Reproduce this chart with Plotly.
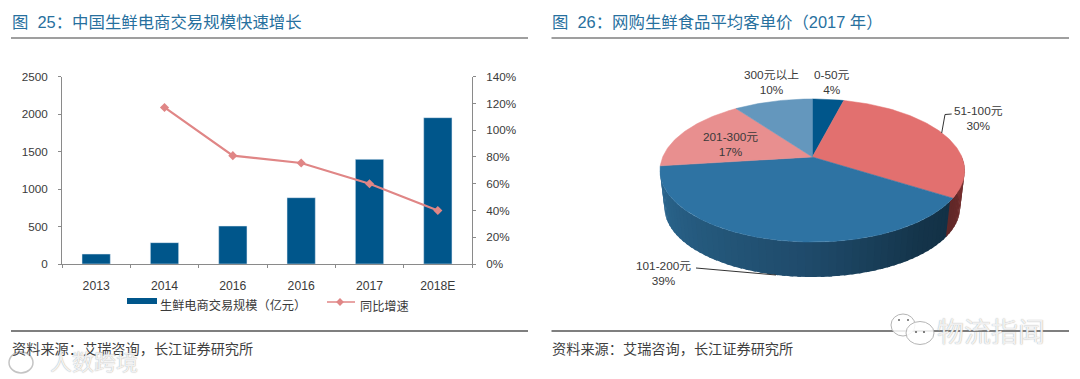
import math
import plotly.graph_objects as go

# ---------- data ----------
years = ["2013", "2014", "2016", "2016", "2017", "2018E"]
market_size = [133, 285, 507, 885, 1397, 1953]
growth_pct = [None, 117, 81, 75.5, 60, 40]
y1_ticks = [0, 500, 1000, 1500, 2000, 2500]
y2_ticks = [0, 20, 40, 60, 80, 100, 120, 140]
y2_ticktext = ["0%", "20%", "40%", "60%", "80%", "100%", "120%", "140%"]

pie_labels = ["0-50元", "51-100元", "101-200元", "201-300元", "300元以上"]
pie_values = [4, 30, 39, 17, 10]
pie_colors = ["#00568b", "#e2706f", "#2e73a3", "#e88f8f", "#6497bd"]

title_left = "图\u00a0\u00a025：中国生鲜电商交易规模快速增长"
title_right = "图\u00a0\u00a026：网购生鲜食品平均客单价（2017\u00a0年）"
source_text = "资料来源：艾瑞咨询，长江证券研究所"
series_bar = "生鲜电商交易规模（亿元）"
series_line = "同比增速"

# ---------- style / layout constants ----------
W, H = 1080, 379
FONT = "Liberation Sans, Noto Sans CJK SC, sans-serif"
TXT = "#3a3a3a"
BLUE = "#00568b"
ROSE = "#e08686"
AXIS = "#8a8a8a"
TITLE_C = "#27709e"

fig = go.Figure()

# ---------- left chart ----------
x_idx = list(range(len(years)))
fig.add_trace(go.Bar(x=x_idx, y=market_size, name=series_bar, marker_color=BLUE,
                     width=0.414, xaxis="x", yaxis="y", showlegend=False))
fig.add_trace(go.Scatter(x=x_idx, y=growth_pct, name=series_line, mode="lines+markers",
                         line=dict(color=ROSE, width=2.2),
                         marker=dict(symbol="diamond", size=7, color=ROSE),
                         xaxis="x", yaxis="y2", showlegend=False))

# ---------- right chart: perspective 3D pie, computed from pie_values ----------
CX, CY = 812.3, 157.0
SX, SY, P = 149.6, 69.0, 0.189
DEPTH, SHRINK = 37.5, 0.97


def project(deg, scale=1.0, dy=0.0):
    a = math.radians(deg)
    X, Y = math.sin(a), math.cos(a)
    w = 1 + P * Y
    return CX + scale * SX * X / w, CY + dy - scale * SY * Y / w


def arc(d0, d1, step=1.0, **kw):
    n = max(2, int(abs(d1 - d0) / step) + 1)
    return [project(d0 + (d1 - d0) * i / (n - 1), **kw) for i in range(n)]


def mix(stops, t):
    for (t0, c0), (t1, c1) in zip(stops, stops[1:]):
        if t0 <= t <= t1:
            f = (t - t0) / (t1 - t0)
            return "rgb(%d,%d,%d)" % tuple(
                round(int(c0[i:i + 2], 16) * (1 - f) + int(c1[i:i + 2], 16) * f) for i in (1, 3, 5))
    return stops[-1][1]


edges = [0.0]
for v in pie_values:
    edges.append(edges[-1] + v * 3.6)

RIGHT_T = math.degrees(math.atan2(math.sqrt(1 - P * P), -P))
LEFT_T = 360 - RIGHT_T
rim_stops = [(RIGHT_T - 5, "#122d40"), (140, "#14344a"), (180, "#1f4b6b"), (220, "#255a7e"), (LEFT_T + 5, "#2d6a94")]
red_stops = [(RIGHT_T - 15, "#7a3030"), (edges[2] + 1, "#5f2727")]

# side strips, drawn from the far ends inwards with an overlap so that no seams show
d = LEFT_T + 2
while d > RIGHT_T - 12:
    e = max(d - 2.5, RIGHT_T - 12)
    upper = arc(d + 1.2, e)
    lower = arc(e, d + 1.2, scale=SHRINK, dy=DEPTH)
    pts = upper + lower + [upper[0]]
    col = mix(red_stops, e) if e < edges[2] else mix(rim_stops, e)
    fig.add_trace(go.Scatter(x=[p[0] for p in pts], y=[p[1] for p in pts], mode="lines", fill="toself",
                             fillcolor=col, line=dict(width=0),
                             xaxis="x3", yaxis="y3", showlegend=False, hoverinfo="skip"))
    d = e

# top faces
for i, lab in enumerate(pie_labels):
    rim = arc(edges[i], edges[i + 1])
    pts = [(CX, CY)] + rim + [(CX, CY)]
    fig.add_trace(go.Scatter(x=[p[0] for p in pts], y=[p[1] for p in pts], mode="lines", fill="toself",
                             fillcolor=pie_colors[i], line=dict(color=pie_colors[i], width=0.5),
                             name=lab, xaxis="x3", yaxis="y3", showlegend=False, hoverinfo="skip"))

# leader lines
for xs, ys in [([941.7, 945, 951.7], [133, 114.5, 114]), ([696, 776], [268, 275])]:
    fig.add_trace(go.Scatter(x=xs, y=ys, mode="lines", line=dict(color="#333333", width=1),
                             xaxis="x3", yaxis="y3", showlegend=False, hoverinfo="skip"))

# legend diamond for the left chart
fig.add_trace(go.Scatter(x=[327, 355], y=[302, 302], mode="lines", line=dict(color=ROSE, width=1.5),
                         xaxis="x3", yaxis="y3", showlegend=False, hoverinfo="skip"))
fig.add_trace(go.Scatter(x=[340], y=[302], mode="markers", marker=dict(symbol="diamond", size=6, color=ROSE),
                         xaxis="x3", yaxis="y3", showlegend=False, hoverinfo="skip"))

# ---------- annotations ----------
ann = []


def text(x, y, s, size=12, color=TXT, anchor="left", **font):
    ann.append(dict(x=x, y=y, xref="x3", yref="y3", text=s, showarrow=False, xanchor=anchor, yanchor="middle",
                    align="center" if anchor == "center" else "left",
                    font=dict(family=FONT, size=size, color=color, **font)))


text(10, 22, title_left, size=16.4, color=TITLE_C)
text(550, 22, title_right, size=16.4, color=TITLE_C)
text(10, 349, source_text, size=14.2, color="#3f3f3f")
text(550, 349, source_text, size=14.2, color="#3f3f3f")
text(158, 305, series_bar, size=12.2)
text(358, 306, series_line, size=12.2)

label_pos = [(832, 82), (978.4, 118.5), (663.5, 273), (730, 144), (771, 82)]
for lab, val, (lx, ly) in zip(pie_labels, pie_values, label_pos):
    text(lx, ly, f"{lab}<br>{val}%", size=11.8, anchor="center")

# watermarks
wm = dict(color="rgba(255,255,255,0.85)", shadow="0 0 1px #888")
text(991, 333, "物流指闻", size=27, anchor="center", **wm)
text(94, 362, "人数跨境", size=22, anchor="center", **wm)

# ---------- shapes ----------
shapes = []


def rule(x0, x1, y, color, w):
    shapes.append(dict(type="line", xref="x3", yref="y3", x0=x0, x1=x1, y0=y, y1=y, line=dict(color=color, width=w)))


for x0, x1 in [(11, 528), (551.5, 1069)]:
    rule(x0, x1, 38, "#7f7f7f", 1.6)
    rule(x0, x1, 331, "#555555", 1.4)
shapes.append(dict(type="rect", xref="x3", yref="y3", x0=127, x1=157, y0=298, y1=304,
                   fillcolor=BLUE, line=dict(width=0)))


def bubble(x, y, rx, ry):
    shapes.append(dict(type="circle", xref="x3", yref="y3", layer="above", x0=x - rx, x1=x + rx, y0=y - ry, y1=y + ry,
                       fillcolor="rgba(255,255,255,0.85)", line=dict(color="#b5b5b5", width=1)))


bubble(903, 325, 12, 11)
bubble(920, 333, 14, 11.5)
for dx, dy, r in [(899, 320, 1), (908, 320, 1), (916, 332, 1.1), (924, 332, 1.1)]:
    shapes.append(dict(type="circle", xref="x3", yref="y3", layer="above", x0=dx - r, x1=dx + r, y0=dy - r, y1=dy + r,
                       fillcolor="#666666", line=dict(width=0)))
shapes.append(dict(type="circle", xref="x3", yref="y3", layer="above", x0=9, x1=33, y0=352, y1=373,
                   fillcolor="rgba(255,255,255,0.6)", line=dict(color="#c4c4c4", width=1.5)))

# ---------- layout ----------
axis_font = dict(family=FONT, size=11.7, color=TXT)
x_font = dict(family=FONT, size=12.2, color=TXT)
fig.update_layout(
    width=W, height=H, margin=dict(l=0, r=0, t=0, b=0, pad=0, autoexpand=False), autosize=False,
    paper_bgcolor="white", plot_bgcolor="rgba(0,0,0,0)", showlegend=False,
    annotations=ann, shapes=shapes,
    xaxis=dict(domain=[62 / W, 472 / W], range=[-0.5, 5.5], tickmode="array", tickvals=x_idx, ticktext=years,
               ticks="", showgrid=False, zeroline=False, showline=True, linecolor=AXIS, linewidth=1,
               tickfont=x_font, ticklabelstandoff=10,
               minor=dict(tickmode="array", tickvals=[i - 0.5 for i in range(7)], ticks="outside", ticklen=3,
                          tickcolor=AXIS, showgrid=False),
               anchor="y", fixedrange=True),
    yaxis=dict(domain=[1 - 264 / H, 1 - 76.7 / H], range=[0, 2500], tickmode="array", tickvals=y1_ticks,
               ticks="outside", ticklen=3, tickcolor=AXIS, showgrid=False, zeroline=False, showline=True,
               linecolor=AXIS, linewidth=1, tickfont=axis_font, ticklabelstandoff=8, anchor="x", fixedrange=True),
    yaxis2=dict(domain=[1 - 264 / H, 1 - 76.7 / H], range=[0, 140], tickmode="array", tickvals=y2_ticks,
                ticktext=y2_ticktext, side="right", overlaying="y", ticks="outside", ticklen=3, tickcolor=AXIS,
                showgrid=False, zeroline=False, showline=True, linecolor=AXIS, linewidth=1, tickfont=axis_font,
                ticklabelstandoff=8, anchor="x", fixedrange=True),
    xaxis3=dict(domain=[0, 1], range=[0, W], visible=False, anchor="y3", fixedrange=True),
    yaxis3=dict(domain=[0, 1], range=[H, 0], visible=False, anchor="x3", fixedrange=True),
)

fig.write_html("out.html", config=dict(displayModeBar=False),
               post_script="document.body.style.margin='0';document.body.style.overflow='hidden';")
